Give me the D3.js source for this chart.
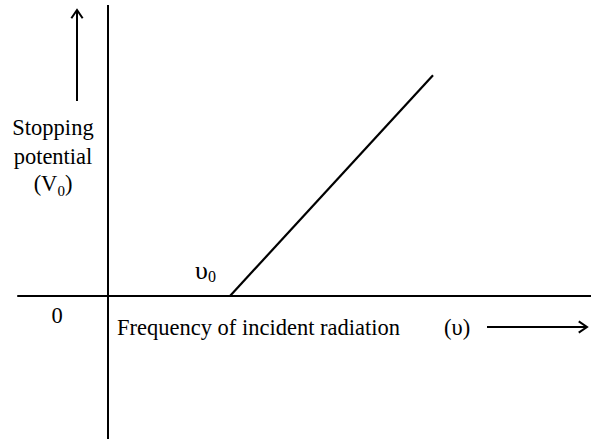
<!DOCTYPE html>
<html>
<head>
<meta charset="utf-8">
<script src="https://cdn.jsdelivr.net/npm/d3@7"></script>
<style>
  html, body { margin: 0; padding: 0; background: #fff; }
  text { font-family: "Liberation Serif", "Times New Roman", serif; fill: #000; }
</style>
</head>
<body>
<div id="chart"></div>
<script>
// frequency (arbitrary units) vs stopping potential
const threshold = 2.5
const lineNu = [2.5, 6.66]
const lineV = [0, 4.6]
const xExtent = [-1.86, 9.98]
const yExtent = [-3, 6.06]
const yLabel = ['Stopping', 'potential']
const xLabel = 'Frequency of incident radiation'

const width = 591
const height = 439

const svg = d3.select('#chart')
  .append('svg')
  .attr('width', width)
  .attr('height', height)

const x = d3.scaleLinear().domain([0, 10]).range([108, 596])
const y = d3.scaleLinear().domain([0, 5]).range([296, 56])

// axes as plain lines through the origin
svg.append('line')
  .attr('x1', x(xExtent[0])).attr('x2', x(xExtent[1]))
  .attr('y1', y(0)).attr('y2', y(0))
  .attr('stroke', '#000').attr('stroke-width', 2)
svg.append('line')
  .attr('x1', x(0)).attr('x2', x(0))
  .attr('y1', y(yExtent[0])).attr('y2', y(yExtent[1]))
  .attr('stroke', '#000').attr('stroke-width', 2)

const pts = lineNu.map((d, i) => [d, lineV[i]])
svg.append('path')
  .attr('d', d3.line().x(d => x(d[0])).y(d => y(d[1]))(pts))
  .attr('fill', 'none')
  .attr('stroke', '#000')
  .attr('stroke-width', 2.2)

// arrows
const arrow = (x1, y1, x2, y2) => {
  svg.append('line')
    .attr('x1', x1).attr('y1', y1).attr('x2', x2).attr('y2', y2)
    .attr('stroke', '#000').attr('stroke-width', 2)
  const a = Math.atan2(y2 - y1, x2 - x1)
  const h = 10
  const p = [
    [x2 - h * Math.cos(a - 0.6), y2 - h * Math.sin(a - 0.6)],
    [x2, y2],
    [x2 - h * Math.cos(a + 0.6), y2 - h * Math.sin(a + 0.6)]
  ]
  svg.append('path')
    .attr('d', d3.line()(p))
    .attr('fill', 'none').attr('stroke', '#000').attr('stroke-width', 2)
}
arrow(77, 101, 77, 10)
arrow(487, 327, 587, 327)

// labels
const fs = 22.5
svg.append('text').attr('x', 53).attr('y', 135).attr('text-anchor', 'middle')
  .attr('font-size', fs).text(yLabel[0])
svg.append('text').attr('x', 53).attr('y', 164).attr('text-anchor', 'middle')
  .attr('font-size', fs).text(yLabel[1])
const v0 = svg.append('text').attr('x', 53).attr('y', 191).attr('text-anchor', 'middle')
  .attr('font-size', fs)
v0.append('tspan').text('(V')
v0.append('tspan').attr('font-size', 15).attr('dy', 5).text('0')
v0.append('tspan').attr('dy', -5).text(')')

svg.append('text').attr('x', 57).attr('y', 323).attr('text-anchor', 'middle')
  .attr('font-size', fs).text('0')

const nu0 = svg.append('text').attr('x', x(threshold) - 35).attr('y', 279).attr('font-size', 26)
nu0.append('tspan').text('\u03c5')
nu0.append('tspan').attr('font-size', 16).attr('dy', 3).text('0')

svg.append('text').attr('x', 117).attr('y', 335).attr('font-size', fs).text(xLabel)
svg.append('text').attr('x', 444).attr('y', 335).attr('font-size', fs).text('(\u03c5)')
</script>
</body>
</html>
